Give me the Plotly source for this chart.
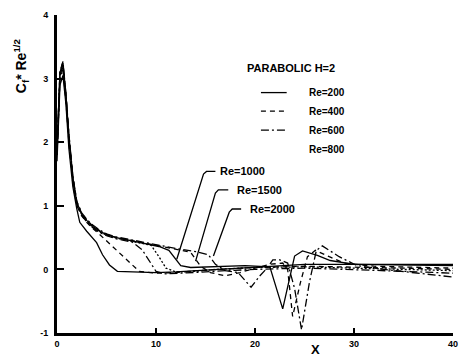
import plotly.graph_objects as go

# ---------------- data ----------------
re200_x = [0, 0.3, 0.6, 0.9, 1.2, 1.6, 2.0, 2.3, 3.0, 4.0, 4.6, 5.3, 6.1, 8, 10, 12, 14, 16, 18, 20, 22, 25, 30, 35, 40]
re200_y = [1.7, 2.9, 3.05, 2.6, 1.9, 1.3, 0.95, 0.74, 0.6, 0.42, 0.23, 0.07, -0.03, -0.04, -0.05, -0.04, -0.02, 0.0, 0.02, 0.04, 0.06, 0.08, 0.08, 0.07, 0.06]

re400_x = [0, 0.3, 0.6, 0.9, 1.2, 1.6, 2.0, 2.5, 3.0, 3.5, 4.3, 5.0, 6.0, 7.0, 8.3, 10, 12, 14, 16, 18, 20, 25, 30, 35, 40]
re400_y = [1.8, 3.0, 3.15, 2.65, 2.0, 1.35, 1.0, 0.84, 0.74, 0.66, 0.55, 0.45, 0.3, 0.16, -0.03, -0.06, -0.05, -0.02, 0.0, 0.02, 0.03, 0.05, 0.04, 0.02, 0.0]

re600_x = [0, 0.3, 0.6, 0.9, 1.2, 1.6, 2.0, 2.5, 3.0, 3.5, 4.3, 5.0, 6.0, 7.6, 8.6, 9.3, 10, 11, 13, 15, 17, 20, 25, 30, 35, 40]
re600_y = [1.8, 3.05, 3.2, 2.7, 2.05, 1.4, 1.02, 0.85, 0.75, 0.67, 0.58, 0.53, 0.48, 0.43, 0.31, 0.15, -0.03, -0.07, -0.06, -0.04, -0.02, 0.0, 0.02, 0.0, -0.03, -0.06]

re800_x = [0, 0.3, 0.6, 0.9, 1.2, 1.6, 2.0, 2.5, 3.0, 3.5, 4.3, 5.0, 6.0, 7.6, 9.5, 10.3, 11, 12, 14, 16, 20, 25, 30, 35, 40]
re800_y = [1.8, 3.05, 3.22, 2.72, 2.08, 1.42, 1.03, 0.86, 0.76, 0.68, 0.59, 0.54, 0.49, 0.44, 0.38, 0.2, 0.02, -0.04, -0.03, 0.0, 0.03, 0.04, 0.02, 0.0, -0.02]

re1000_x = [0, 0.3, 0.6, 0.9, 1.2, 1.6, 2.0, 2.5, 3.0, 3.5, 4.3, 5.0, 6.0, 7.6, 9.0, 10.3, 11.3, 12.5, 13.5, 15, 17, 19, 21.5, 22.8, 24, 24.8, 26.3, 27.6, 30, 35, 40]
re1000_y = [1.9, 3.1, 3.25, 2.75, 2.1, 1.45, 1.05, 0.87, 0.77, 0.69, 0.6, 0.55, 0.5, 0.45, 0.4, 0.36, 0.3, 0.06, 0.03, 0.04, 0.05, 0.06, 0.04, -0.62, 0.21, 0.29, 0.22, 0.14, 0.08, 0.08, 0.08]

re1500_x = [0, 0.3, 0.6, 0.9, 1.2, 1.6, 2.0, 2.5, 3.0, 3.5, 4.3, 5.0, 6.0, 7.6, 9.0, 10.3, 12, 13.5, 14.5, 15.5, 17, 18.5, 20, 21.5, 22.8, 23.3, 23.8, 24.6, 25.3, 26.1, 27.5, 29, 32, 36, 40]
re1500_y = [1.9, 3.1, 3.26, 2.76, 2.12, 1.46, 1.06, 0.88, 0.78, 0.7, 0.61, 0.55, 0.5, 0.45, 0.41, 0.37, 0.32, 0.27, 0.05, -0.05, -0.1, -0.05, 0.02, 0.08, 0.1, 0.0, -0.74, -0.2, 0.2, 0.3, 0.2, 0.1, 0.05, 0.03, 0.02]

re2000_x = [0, 0.3, 0.6, 0.9, 1.2, 1.6, 2.0, 2.5, 3.0, 3.5, 4.3, 5.0, 6.0, 7.6, 9.0, 10.3, 12, 14, 15.3, 16, 17, 18.3, 19.6, 20.5, 21.1, 21.8, 22.5, 23.3, 24, 24.7, 25.5, 26.2, 26.8, 28.5, 30.3, 33, 36, 40]
re2000_y = [1.9, 3.1, 3.27, 2.77, 2.13, 1.47, 1.07, 0.89, 0.79, 0.71, 0.62, 0.56, 0.51, 0.46, 0.42, 0.38, 0.33, 0.28, 0.23, 0.08, -0.02, -0.05, -0.28, -0.1, 0.0, 0.15, 0.15, 0.1, -0.3, -0.95, -0.2, 0.3, 0.37, 0.2, 0.06, 0.0, -0.05, -0.12]

series_names = ["Re=200", "Re=400", "Re=600", "Re=800", "Re=1000", "Re=1500", "Re=2000"]
series_x = [re200_x, re400_x, re600_x, re800_x, re1000_x, re1500_x, re2000_x]
series_y = [re200_y, re400_y, re600_y, re800_y, re1000_y, re1500_y, re2000_y]

x_ticks = [0, 10, 20, 30, 40]
y_ticks = [-1, 0, 1, 2, 3, 4]

legend_title = "PARABOLIC H=2"
legend_labels = ["Re=200", "Re=400", "Re=600", "Re=800"]

callout_labels = ["Re=1000", "Re=1500", "Re=2000"]
# label anchor (data coords) and leader path (data coords)
callout_text_pos = [(16.3, 1.54), (18.0, 1.25), (19.3, 0.95)]
callout_leaders = [
    [(12.1, 0.16), (14.8, 1.5), (15.1, 1.54), (16.0, 1.54)],
    [(14.0, 0.13), (16.0, 1.2), (16.3, 1.25), (17.3, 1.25)],
    [(15.8, 0.21), (17.4, 0.9), (17.7, 0.95), (18.6, 0.95)],
]

# ---------------- styles ----------------
DASHES = {
    "Re=200": "solid",
    "Re=400": "5px,4px",
    "Re=600": "8px,3px,2px,3px",
    "Re=800": "2px,2px",
    "Re=1000": "solid",
    "Re=1500": "5px,4px",
    "Re=2000": "8px,3px,2px,3px",
}
FONT = "Liberation Sans, Arial, sans-serif"

fig = go.Figure()
for name, xs, ys in zip(series_names, series_x, series_y):
    fig.add_trace(go.Scatter(
        x=xs, y=ys, mode="lines", name=name, showlegend=False,
        line=dict(color="black", width=1.3, dash=DASHES[name]),
    ))

shapes = []
annotations = []

# legend (manual, to mirror the printed key)
legend_x0, legend_x1, legend_tx = 20.6, 23.2, 25.3
legend_y = [2.78, 2.49, 2.19, 1.88]
annotations.append(dict(x=19.0, y=3.17, xref="x", yref="y", text=legend_title,
                        showarrow=False, xanchor="left", yanchor="middle",
                        font=dict(family=FONT, size=11, color="black", weight="bold")))
for lab, yy in zip(legend_labels, legend_y):
    annotations.append(dict(x=legend_tx, y=yy, xref="x", yref="y", text=lab,
                            showarrow=False, xanchor="left", yanchor="middle",
                            font=dict(family=FONT, size=10, color="black", weight="bold")))
    if lab != "Re=800":
        shapes.append(dict(type="line", xref="x", yref="y", x0=legend_x0, x1=legend_x1,
                           y0=yy, y1=yy, line=dict(color="black", width=1.3, dash=DASHES[lab])))

# callouts
for lab, (tx, ty), pts in zip(callout_labels, callout_text_pos, callout_leaders):
    annotations.append(dict(x=tx, y=ty, xref="x", yref="y", text=lab,
                            showarrow=False, xanchor="left", yanchor="middle",
                            font=dict(family=FONT, size=11, color="black", weight="bold")))
    path = "M " + " L ".join(f"{px},{py}" for px, py in pts)
    shapes.append(dict(type="path", xref="x", yref="y", path=path,
                       line=dict(color="black", width=1.3)))

# y axis title
annotations.append(dict(x=-0.09, y=0.84, xref="paper", yref="paper",
                        text="C<sub>f</sub>* Re<sup>1/2</sup>", textangle=-90,
                        showarrow=False, xanchor="center", yanchor="middle",
                        font=dict(family=FONT, size=14, color="black", weight="bold")))
# x axis title
annotations.append(dict(x=0.652, y=-0.053, xref="paper", yref="paper",
                        text="X", showarrow=False, xanchor="center", yanchor="middle",
                        font=dict(family=FONT, size=13, color="black", weight="bold")))

fig.update_layout(
    width=468, height=359,
    margin=dict(l=57, r=11, t=10, b=26),
    paper_bgcolor="white", plot_bgcolor="white",
    showlegend=False,
    shapes=shapes, annotations=annotations,
    font=dict(family=FONT, color="black"),
)
fig.update_xaxes(range=[0, 40], tickvals=x_ticks, ticktext=[str(v) for v in x_ticks],
                 showgrid=False, zeroline=False, showline=True, linecolor="black", linewidth=3,
                 ticks="inside", ticklen=5, tickwidth=1.5, tickcolor="black",
                 ticklabeloverflow="allow",
                 tickfont=dict(family=FONT, size=9, color="black", weight="bold"))
fig.update_yaxes(range=[-1, 4], tickvals=y_ticks, ticktext=[str(v) for v in y_ticks],
                 showgrid=False, zeroline=False, showline=True, linecolor="black", linewidth=3,
                 ticks="inside", ticklen=7, tickwidth=1.5, tickcolor="black",
                 ticklabelstandoff=4,
                 tickfont=dict(family=FONT, size=9, color="black", weight="bold"))

fig.write_html("out.html")
